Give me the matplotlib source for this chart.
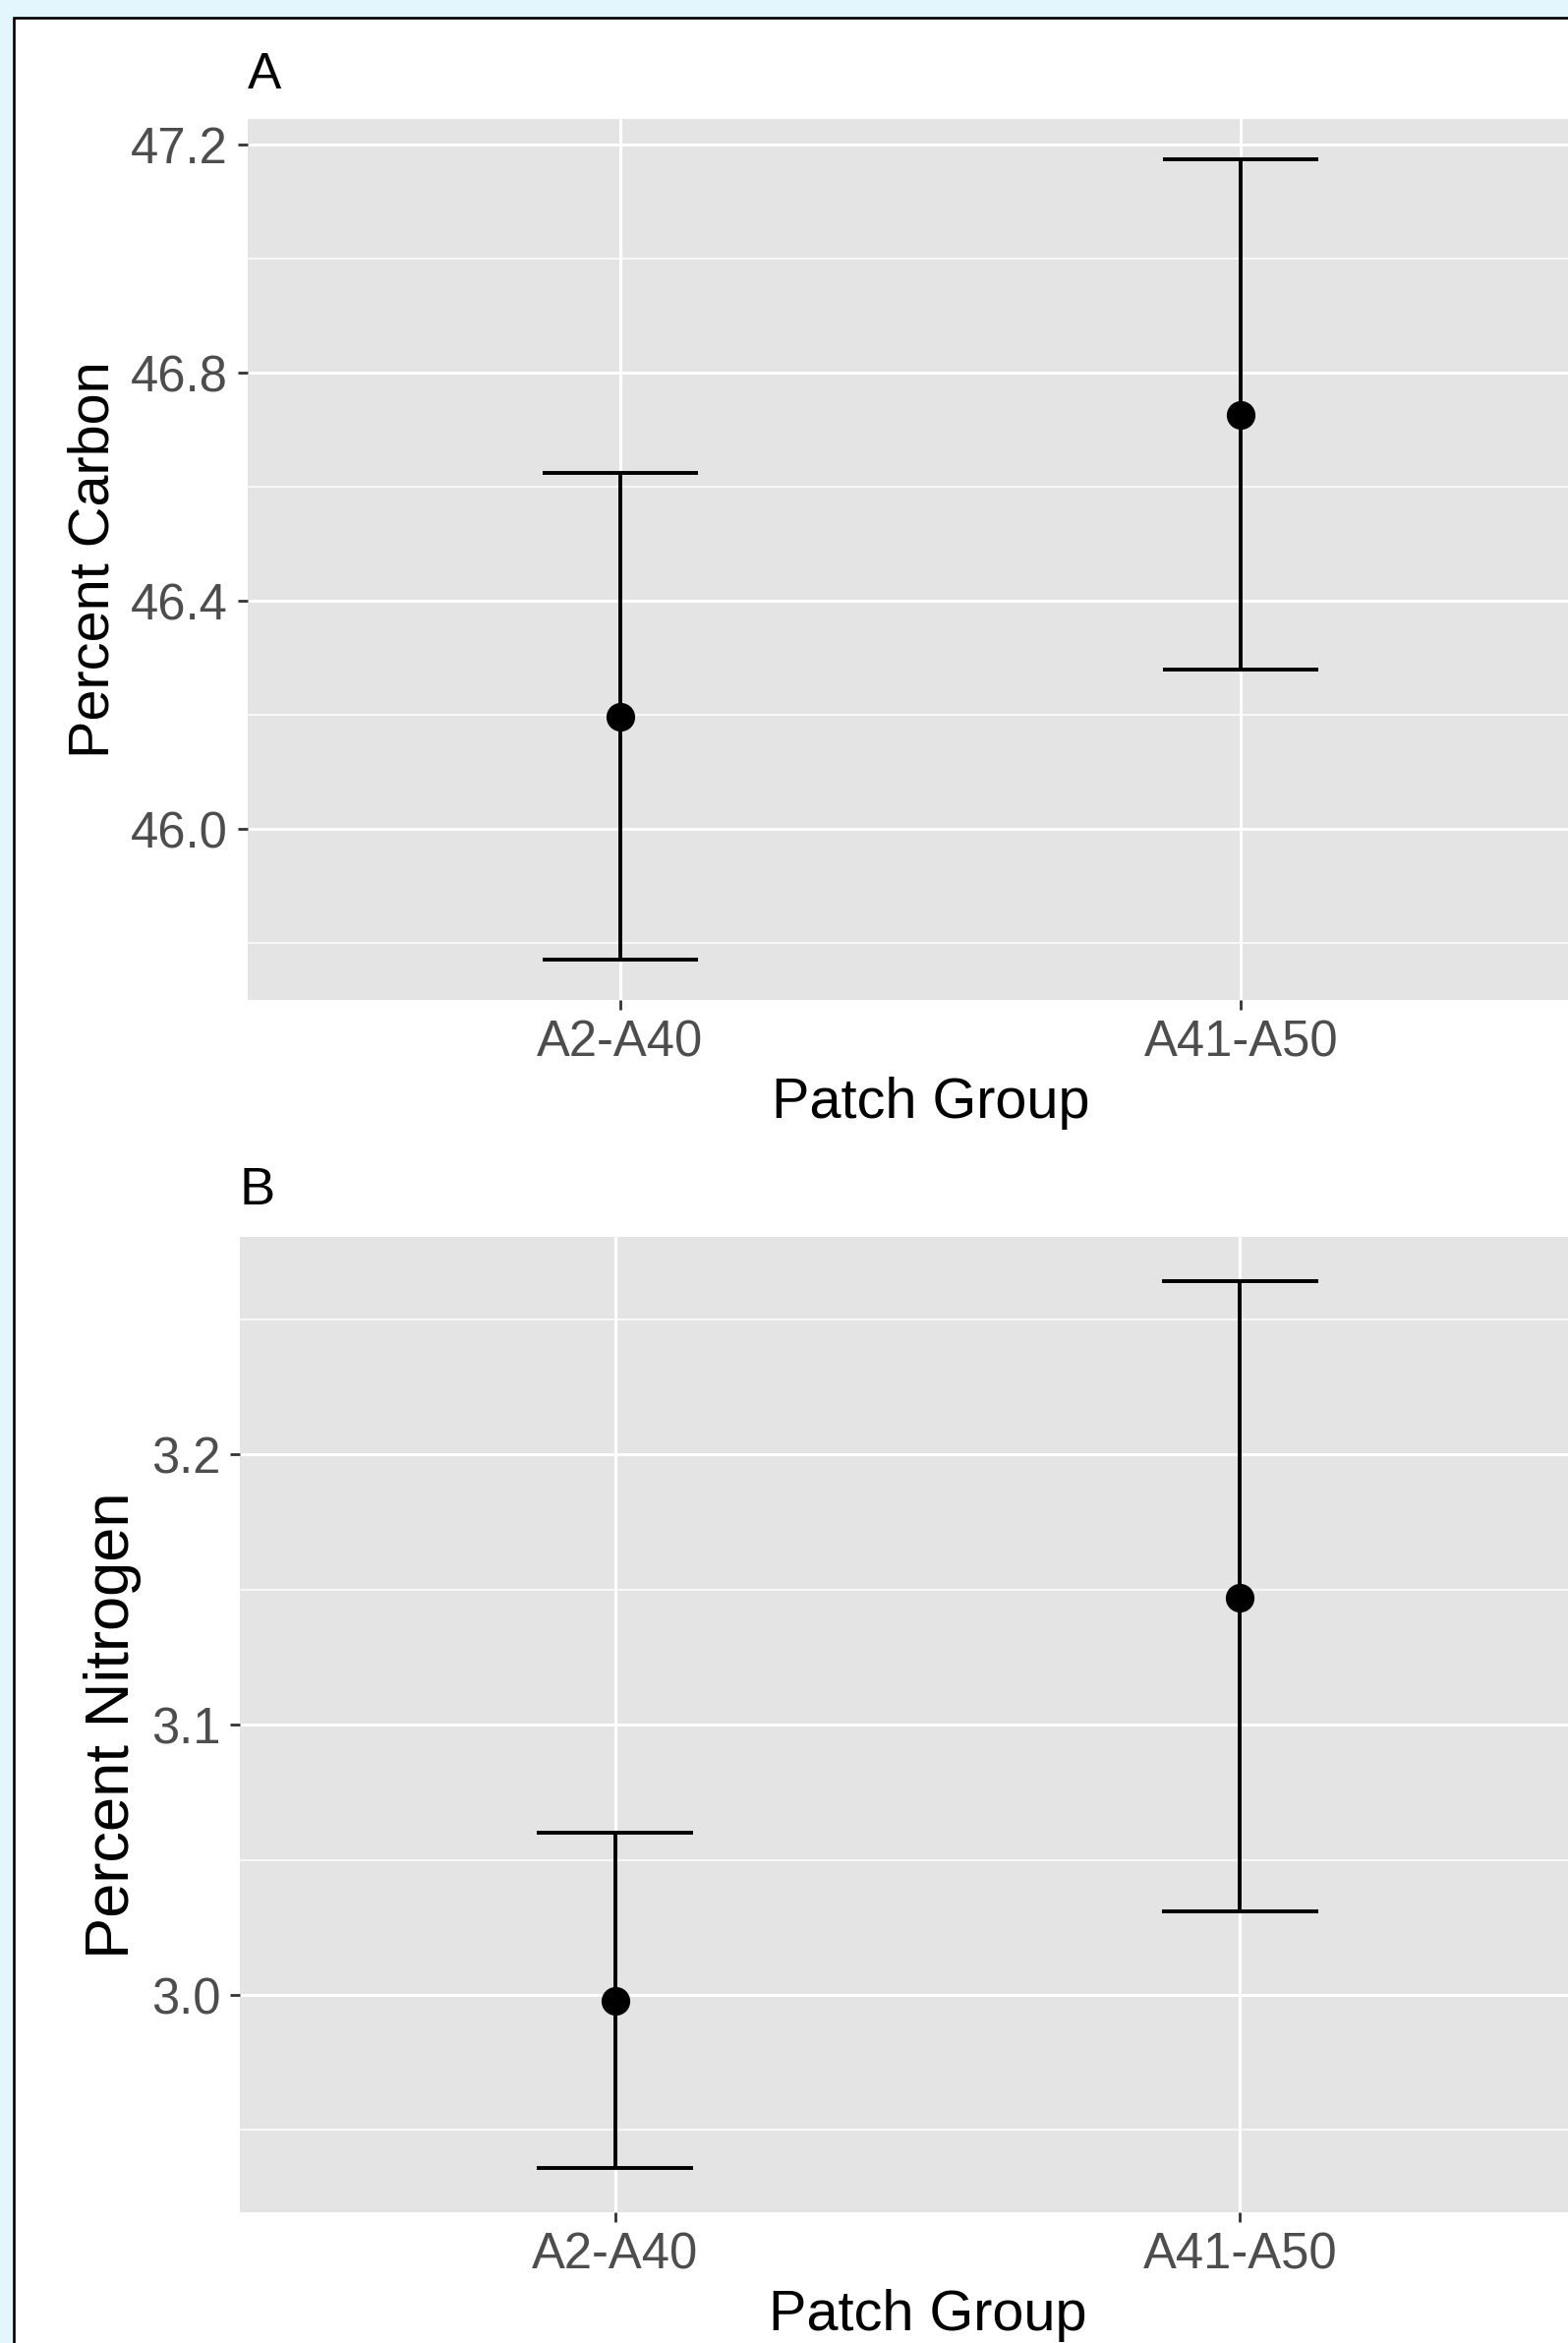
import matplotlib
matplotlib.use("Agg")
import matplotlib.pyplot as plt
from matplotlib.patches import Rectangle
import numpy as np

# ---- data ----
groups = ["A2-A40", "A41-A50"]
carbon_mean = [46.197, 46.727]
carbon_lower = [45.771, 46.280]
carbon_upper = [46.625, 47.175]
nitrogen_mean = [2.998, 3.147]
nitrogen_lower = [2.936, 3.031]
nitrogen_upper = [3.060, 3.264]

carbon_ticks = [46.0, 46.4, 46.8, 47.2]
carbon_minor = [45.8, 46.2, 46.6, 47.0]
nitrogen_ticks = [3.0, 3.1, 3.2]
nitrogen_minor = [2.95, 3.05, 3.15, 3.25]

plt.rcParams["font.family"] = ["Liberation Sans", "DejaVu Sans"]

W, H = 1595, 2383
DPI = 100
fig = plt.figure(figsize=(W / DPI, H / DPI), dpi=DPI)
fig.patch.set_facecolor("#E3F6FD")

# white screenshot area with black frame (top/left visible)
fig.patches.append(Rectangle((14 / W, -0.1), 2.0, 1.1 - 18.3 / H,
                             transform=fig.transFigure, facecolor="white",
                             edgecolor="black", linewidth=1.9, zorder=-5))

PANEL_BG = "#E4E4E4"
TICK_LABEL_SIZE = 36.5
AXIS_TITLE_SIZE = 41.5


def px_axes(left, top, right, bottom):
    return fig.add_axes([left / W, 1 - bottom / H, (right - left) / W, (bottom - top) / H])


def draw_panel(ax, means, lowers, uppers, ticks, minors, ylabel, ylabel_size,
               title, title_size, title_pad):
    x = np.arange(len(groups))
    ax.set_facecolor(PANEL_BG)
    for s in ax.spines.values():
        s.set_visible(False)
    lo, hi = min(lowers), max(uppers)
    r = hi - lo
    ax.set_ylim(lo - 0.05 * r, hi + 0.05 * r)
    ax.set_xlim(-0.6, len(groups) - 1 + 0.6)
    ax.set_xticks(x)
    ax.set_xticklabels(groups)
    ax.set_yticks(ticks)
    ax.set_yticklabels([f"{t:.1f}" for t in ticks])
    ax.set_yticks(minors, minor=True)
    ax.grid(True, which="major", color="white", linewidth=2.2, zorder=0)
    ax.grid(True, which="minor", axis="y", color="white", linewidth=1.1, zorder=0)
    ax.set_axisbelow(True)
    ax.tick_params(which="major", length=7, width=2.0, color="#333333",
                   labelsize=TICK_LABEL_SIZE, labelcolor="#4D4D4D", pad=7.2)
    ax.tick_params(which="minor", length=0)
    ax.vlines(x, lowers, uppers, color="black", linewidth=2.8, zorder=3)
    ax.hlines(lowers, x - 0.125, x + 0.125, color="black", linewidth=2.8, zorder=3)
    ax.hlines(uppers, x - 0.125, x + 0.125, color="black", linewidth=2.8, zorder=3)
    ax.plot(x, means, "o", color="black", markersize=20, zorder=4)
    ax.set_xlabel("Patch Group", fontsize=AXIS_TITLE_SIZE, labelpad=7)
    ax.set_ylabel(ylabel, fontsize=ylabel_size, labelpad=7.2)
    ax.set_title(title, loc="left", fontsize=title_size, pad=title_pad)


axA = px_axes(251.5, 121, 1641.5, 1017)
draw_panel(axA, carbon_mean, carbon_lower, carbon_upper, carbon_ticks, carbon_minor,
           "Percent Carbon", 41.5, "A", 37, 22.5)

axB = px_axes(244, 1258.4, 1643, 2250)
draw_panel(axB, nitrogen_mean, nitrogen_lower, nitrogen_upper, nitrogen_ticks, nitrogen_minor,
           "Percent Nitrogen", 45.5, "B", 39, 24)

fig.savefig("out.png", dpi=DPI, facecolor=fig.get_facecolor())
